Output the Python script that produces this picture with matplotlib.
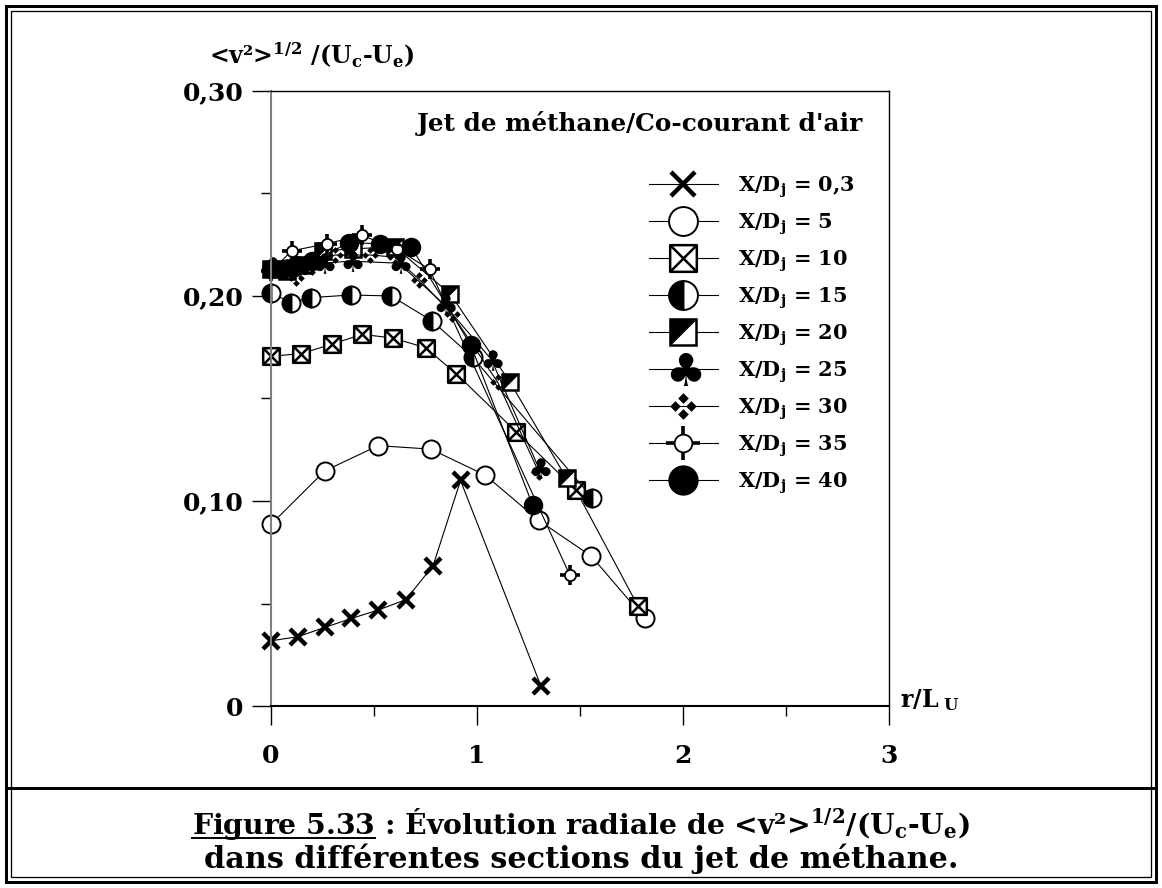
import numpy as np
import matplotlib
matplotlib.use("Agg")
import matplotlib.pyplot as plt
import matplotlib.ticker as mticker
from matplotlib.path import Path
from matplotlib.textpath import TextPath
from matplotlib.font_manager import FontProperties
from matplotlib.lines import Line2D
from matplotlib.legend_handler import HandlerTuple
from matplotlib.patches import Rectangle

plt.rcParams['font.family'] = 'DejaVu Serif'
plt.rcParams['font.weight'] = 'bold'
plt.rcParams['mathtext.fontset'] = 'custom'
plt.rcParams['mathtext.rm'] = 'DejaVu Serif:bold'
plt.rcParams['mathtext.bf'] = 'DejaVu Serif:bold'
plt.rcParams['mathtext.it'] = 'DejaVu Serif:bold'
plt.rcParams['mathtext.default'] = 'bf'

### Données (r/L_U , <v'^2>^1/2/(Uc-Ue))
r_03 = [0, 0.13, 0.26, 0.39, 0.52, 0.655, 0.787, 0.92, 1.31]
v_03 = [0.0318, 0.0338, 0.0383, 0.0427, 0.0468, 0.0519, 0.0685, 0.110, 0.0098]

r_05 = [0, 0.261, 0.52, 0.776, 1.04, 1.30, 1.555, 1.814]
v_05 = [0.0886, 0.1147, 0.127, 0.1253, 0.1126, 0.0905, 0.0731, 0.0427]

r_10 = [0, 0.146, 0.296, 0.442, 0.591, 0.75, 0.90, 1.19, 1.48, 1.78]
v_10 = [0.1706, 0.1719, 0.1765, 0.1813, 0.1795, 0.1748, 0.162, 0.1338, 0.1054, 0.049]

r_15 = [0, 0.097, 0.194, 0.388, 0.583, 0.78, 0.98, 1.56]
v_15 = [0.2015, 0.1968, 0.1992, 0.2005, 0.200, 0.188, 0.170, 0.1015]

r_20 = [0, 0.08, 0.16, 0.25, 0.40, 0.60, 0.87, 1.16, 1.435]
v_20 = [0.213, 0.212, 0.215, 0.222, 0.223, 0.224, 0.201, 0.158, 0.111]

r_25 = [0, 0.07, 0.13, 0.25, 0.39, 0.62, 0.84, 1.07, 1.30]
v_25 = [0.214, 0.213, 0.214, 0.216, 0.217, 0.216, 0.196, 0.169, 0.116]

r_30 = [0, 0.12, 0.20, 0.31, 0.48, 0.60, 0.72, 0.88, 1.10, 1.30]
v_30 = [0.212, 0.209, 0.214, 0.220, 0.220, 0.219, 0.208, 0.191, 0.158, 0.114]

r_35 = [0, 0.10, 0.27, 0.44, 0.61, 0.77, 1.45]
v_35 = [0.212, 0.222, 0.2255, 0.2296, 0.223, 0.213, 0.064]

r_40 = [0, 0.06, 0.12, 0.20, 0.38, 0.53, 0.68, 0.97, 1.27]
v_40 = [0.213, 0.213, 0.215, 0.217, 0.226, 0.2255, 0.224, 0.176, 0.098]

labels = ['0,3', '5', '10', '15', '20', '25', '30', '35', '40']

y_ticks = [0, 0.10, 0.20, 0.30]
y_ticklabels = ['0', '0,10', '0,20', '0,30']
x_ticks = [0, 1, 2, 3]
x_ticklabels = ['0', '1', '2', '3']

### Marqueurs perso
M, L, C = Path.MOVETO, Path.LINETO, Path.CLOSEPOLY
box_x = Path([(-1, -1), (1, -1), (1, 1), (-1, 1), (-1, -1),
              (-1, -1), (1, 1), (-1, 1), (1, -1)],
             [M, L, L, L, C, M, L, M, L])
tri_hs = Path([(-1, -1), (1, 1), (-1, 1), (-1, -1)], [M, L, L, C])
verts, codes = [], []
for cx, cy in [(0, 0.6), (0.6, 0), (0, -0.6), (-0.6, 0)]:
    d = 0.4
    verts += [(cx, cy + d), (cx + d, cy), (cx, cy - d), (cx - d, cy), (cx, cy + d)]
    codes += [M, L, L, L, C]
four_diam = Path(verts, codes)
tp = TextPath((0, 0), '\u2663', prop=FontProperties(family='DejaVu Sans'))
v = tp.vertices.copy()
mid = (v.min(axis=0) + v.max(axis=0)) / 2
club = Path(v - mid, tp.codes)

lw = 0.8
fig = plt.figure(figsize=(11.62, 8.88), dpi=100)
ax = fig.add_axes([271 / 1162, 1 - 706 / 888, 618 / 1162, 615 / 888])

common = dict(color='black', lw=lw, clip_on=False)
h03, = ax.plot(r_03, v_03, marker='x', ms=11, mew=3.2, **common)
h05, = ax.plot(r_05, v_05, marker='o', ms=13, mew=1.4, mfc='white', **common)
h10, = ax.plot(r_10, v_10, marker=box_x, ms=12, mew=1.8, mfc='white', **common)
h15, = ax.plot(r_15, v_15, marker='o', ms=13, mew=1.4, fillstyle='left',
               mfc='black', mfcalt='white', **common)
h20a, = ax.plot(r_20, v_20, marker='s', ms=12, mew=1.8, mfc='white', **common)
h20b, = ax.plot(r_20, v_20, marker=tri_hs, ls='none', ms=12, mew=0.5, mfc='black',
                color='black', clip_on=False)
h25, = ax.plot(r_25, v_25, marker=club, ms=16, mew=0, mfc='black', **common)
h30, = ax.plot(r_30, v_30, marker=four_diam, ms=12, mew=0, mfc='black', **common)
h35a, = ax.plot(r_35, v_35, marker='+', ms=15, mew=2.6, **common)
h35b, = ax.plot(r_35, v_35, marker='o', ls='none', ms=8, mew=1.3, mfc='white',
                color='black', clip_on=False)
h40, = ax.plot(r_40, v_40, marker='o', ms=13, mew=1, mfc='black', **common)

ax.set_xlim(0, 3)
ax.set_ylim(0, 0.30)
ax.xaxis.set_major_locator(mticker.FixedLocator(x_ticks))
ax.xaxis.set_major_formatter(mticker.FixedFormatter(x_ticklabels))
ax.xaxis.set_minor_locator(mticker.FixedLocator([0.5, 1.5, 2.5]))
ax.yaxis.set_major_locator(mticker.FixedLocator(y_ticks))
ax.yaxis.set_major_formatter(mticker.FixedFormatter(y_ticklabels))
ax.yaxis.set_minor_locator(mticker.FixedLocator([0.05, 0.15, 0.25]))
ax.tick_params(which='major', direction='out', length=14, width=1, labelsize=18)
ax.tick_params(which='minor', direction='out', length=7, width=1)
ax.tick_params(axis='x', which='major', pad=13)
ax.tick_params(axis='y', which='major', pad=6)
ax.spines['left'].set_color('#808080')
ax.spines['left'].set_linewidth(1.5)
ax.spines['bottom'].set_linewidth(1.5)
ax.spines['top'].set_linewidth(1)
ax.spines['right'].set_linewidth(1)

# Légende
handles = [h03, h05, h10, h15, (h20a, h20b), h25, h30, (h35a, h35b), h40]
leg_labels = ['X/D$_{j}$ = ' + s for s in labels]
leg = ax.legend(handles, leg_labels, loc='center left',
                bbox_to_anchor=(1.834 / 3, 0.181 / 0.30), frameon=False,
                fontsize=15, markerscale=1.6, handlelength=3.3, handletextpad=1.0,
                labelspacing=0.55, borderpad=0, borderaxespad=0,
                handler_map={tuple: HandlerTuple(ndivide=1, pad=0)})

ax.text(2.873, 0.284, "Jet de méthane/Co-courant d'air", ha='right', va='center',
        fontsize=17.8, fontweight='bold')

# Titres d'axes
fig.text(209 / 1162, 1 - 55 / 888, r'<v²>$^{1/2}$ /(U$_{c}$-U$_{e}$)',
         ha='left', va='center', fontsize=17)
fig.text(900 / 1162, 1 - 700 / 888, r'r/L$_{\ U}$', ha='left', va='center', fontsize=17)

# Cadres
W, H = 1162, 888
def rect_px(x0, y0, x1, y1, lwpx):
    fig.patches.append(Rectangle((x0 / W, 1 - y1 / H), (x1 - x0) / W, (y1 - y0) / H,
                                 transform=fig.transFigure, fill=False,
                                 ec='black', lw=lwpx * 0.72))
rect_px(6, 6, W - 6, H - 6, 3)
rect_px(11, 11, W - 11, H - 11, 1.3)
fig.add_artist(Line2D([6 / W, 1 - 6 / W], [1 - 788 / H, 1 - 788 / H],
                      transform=fig.transFigure, color='black', lw=3 * 0.72))

# Légende de figure
fs_cap1, fs_cap2 = 20.3, 21.8
cap1 = 'Figure 5.33 : Évolution radiale de <v²>$^{1/2}$/(U$_{c}$-U$_{e}$)'
cap2 = 'dans différentes sections du jet de méthane.'
t1 = fig.text(0.5, 1 - 824 / H, cap1, ha='center', va='center', fontsize=fs_cap1)
fig.text(0.5, 1 - 859 / H, cap2, ha='center', va='center', fontsize=fs_cap2)

fig.canvas.draw()
rend = fig.canvas.get_renderer()
bb = t1.get_window_extent(rend)
tmp = fig.text(0, 0, 'Figure 5.33', fontsize=fs_cap1)
wtmp = tmp.get_window_extent(rend).width
tmp.remove()
y_ul = (bb.y0 + 4) / H
fig.add_artist(Line2D([bb.x0 / W, (bb.x0 + wtmp) / W], [y_ul, y_ul],
                      transform=fig.transFigure, color='black', lw=1.4))

fig.savefig('out.png', dpi=100)
